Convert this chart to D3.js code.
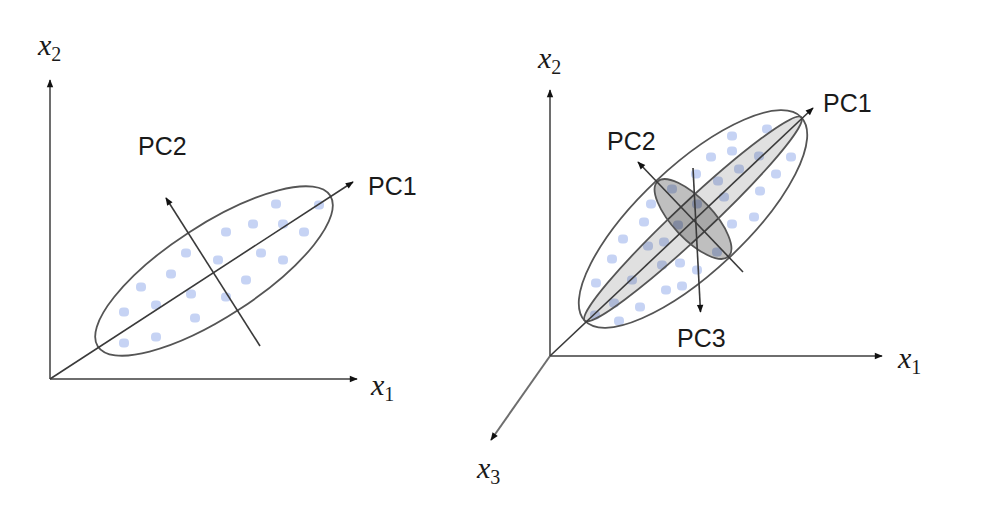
<!DOCTYPE html>
<html>
<head>
<meta charset="utf-8">
<script src="https://cdn.jsdelivr.net/npm/d3@7"></script>
<style>
  body { margin: 0; background: #fff; }
  svg { display: block; }
</style>
</head>
<body>
<svg id="chart"></svg>
<script>
// --- data (panel units, origin = where the axes meet, y grows upward) ---

// left panel: 2-D
const leftAxes = [
  { id: "x1", to: [307, 0] },
  { id: "x2", to: [0, 299] }
];
const leftPCs = [
  { id: "PC1", from: [0, 0], to: [303, 197] },
  { id: "PC2", from: [210, 33], to: [116, 181] }
];
const leftEllipse = { cx: 164, cy: 108, a: 138.5, b: 46, angle: 33 };
const leftDots = [
  [226, 175], [269, 174], [203, 155], [233, 155], [254, 147], [176, 147],
  [136, 126], [168, 119], [211, 126], [233, 119], [121, 105], [196, 99],
  [91, 92], [141, 85], [176, 82], [106, 74], [74, 67], [145, 61],
  [106, 42], [74, 36]
];
const leftLabels = [
  { text: "x", sub: "2", pos: [-12, 324], math: true },
  { text: "x", sub: "1", pos: [321, -16], math: true },
  { text: "PC2", pos: [88, 224] },
  { text: "PC1", pos: [318, 184] }
];

// right panel: 3-D
const rightAxes = [
  { id: "x1", to: [332, 0] },
  { id: "x2", to: [0, 266] },
  { id: "x3", to: [-59, -84] }
];
const rightPCs = [
  { id: "PC1", from: [0, 0], to: [263, 248] },
  { id: "PC2", from: [193, 84], to: [88, 194] },
  { id: "PC3", from: [143, 188], to: [150.5, 44] }
];
const rightEllipses = [
  { id: "outer", cx: 143, cy: 137, a: 148.6, b: 53, angle: 43.2, fill: "none" },
  { id: "pc1pc3", cx: 143, cy: 137, a: 148.6, b: 17, angle: 43.2, fill: "rgba(0,0,0,0.12)" },
  { id: "pc2pc3", cx: 143, cy: 137, a: 51.6, b: 20, angle: 133.5, fill: "rgba(0,0,0,0.25)" }
];
const rightDots = [
  [101, 152], [94, 134], [73, 117], [98, 110], [114, 114], [62, 97],
  [128, 131], [112, 91], [130, 93], [147, 86], [82, 76], [46, 73],
  [116, 66], [132, 70], [64, 53], [90, 49], [45, 41], [69, 35],
  [217, 227], [182, 220], [161, 199], [182, 205], [209, 200], [241, 199],
  [146, 182], [189, 187], [168, 175], [226, 182], [174, 159], [210, 165],
  [147, 152], [204, 139], [182, 132], [122, 167], [167, 104]
];
const rightLabels = [
  { text: "x", sub: "2", pos: [-12, 288], math: true },
  { text: "x", sub: "1", pos: [348, -12], math: true },
  { text: "x", sub: "3", pos: [-73, -122], math: true },
  { text: "PC2", pos: [57, 206] },
  { text: "PC1", pos: [273, 244] },
  { text: "PC3", pos: [127, 9] }
];

// --- drawing ---
const width = 1002, height = 520;
const svg = d3.select("#chart")
  .attr("width", width)
  .attr("height", height);

svg.append("rect").attr("width", width).attr("height", height).attr("fill", "#fff");

const defs = svg.append("defs");
defs.append("marker")
  .attr("id", "arrow")
  .attr("viewBox", "0 -5 10 10")
  .attr("refX", 9)
  .attr("refY", 0)
  .attr("markerWidth", 10)
  .attr("markerHeight", 8)
  .attr("markerUnits", "userSpaceOnUse")
  .attr("orient", "auto")
  .append("path")
  .attr("d", "M0,-4L10,0L0,4Z")
  .attr("fill", "#111");

// the points in the source look a little soft
defs.append("filter")
  .attr("id", "soft")
  .append("feGaussianBlur")
  .attr("stdDeviation", 0.6);

function drawPanel(origin, axes, pcs, ellipses, dots, labels) {
  // one unit = one pixel, anchored at the panel origin
  const x = d3.scaleLinear().domain([0, 100]).range([origin[0], origin[0] + 100]);
  const y = d3.scaleLinear().domain([0, 100]).range([origin[1], origin[1] - 100]);
  const len = v => x(v) - x(0);

  const g = svg.append("g");

  // coordinate axes
  g.selectAll(".axis")
    .data(axes)
    .join("line")
      .attr("class", "axis")
      .attr("x1", x(0)).attr("y1", y(0))
      .attr("x2", d => x(d.to[0])).attr("y2", d => y(d.to[1]))
      .attr("stroke", "#6e6e6e")
      .attr("stroke-width", 2)
      .attr("marker-end", "url(#arrow)");

  // data points
  g.selectAll(".dot")
    .data(dots)
    .join("rect")
      .attr("class", "dot")
      .attr("x", d => x(d[0]) - 5)
      .attr("y", d => y(d[1]) - 4.5)
      .attr("width", 10)
      .attr("height", 9)
      .attr("rx", 4)
      .attr("fill", "#c6d3f4")
      .attr("filter", "url(#soft)");

  // ellipses
  g.selectAll(".ell")
    .data(ellipses)
    .join("ellipse")
      .attr("class", "ell")
      .attr("cx", 0).attr("cy", 0)
      .attr("rx", d => len(d.a))
      .attr("ry", d => len(d.b))
      .attr("transform", d => `translate(${x(d.cx)},${y(d.cy)}) rotate(${-d.angle})`)
      .attr("fill", d => d.fill || "none")
      .attr("stroke", "#555")
      .attr("stroke-width", 1.8);

  // principal component directions
  g.selectAll(".pc")
    .data(pcs)
    .join("line")
      .attr("class", "pc")
      .attr("x1", d => x(d.from[0])).attr("y1", d => y(d.from[1]))
      .attr("x2", d => x(d.to[0])).attr("y2", d => y(d.to[1]))
      .attr("stroke", "#3a3a3a")
      .attr("stroke-width", 1.6)
      .attr("marker-end", "url(#arrow)");

  // labels
  const t = g.selectAll(".lab")
    .data(labels)
    .join("text")
      .attr("class", "lab")
      .attr("x", d => x(d.pos[0]))
      .attr("y", d => y(d.pos[1]))
      .attr("fill", "#1a1a1a");

  t.filter(d => !d.math)
    .attr("font-family", "Liberation Sans, Arial, sans-serif")
    .attr("font-size", 25)
    .text(d => d.text);

  const m = t.filter(d => d.math)
    .attr("font-family", "Liberation Serif, Times New Roman, serif");
  m.append("tspan")
    .attr("font-style", "italic")
    .attr("font-size", 30)
    .text(d => d.text);
  m.append("tspan")
    .attr("font-size", 20)
    .attr("dy", 6)
    .text(d => d.sub);
}

drawPanel([50, 379], leftAxes, leftPCs, [leftEllipse], leftDots, leftLabels);
drawPanel([550, 356], rightAxes, rightPCs, rightEllipses, rightDots, rightLabels);
</script>
</body>
</html>
